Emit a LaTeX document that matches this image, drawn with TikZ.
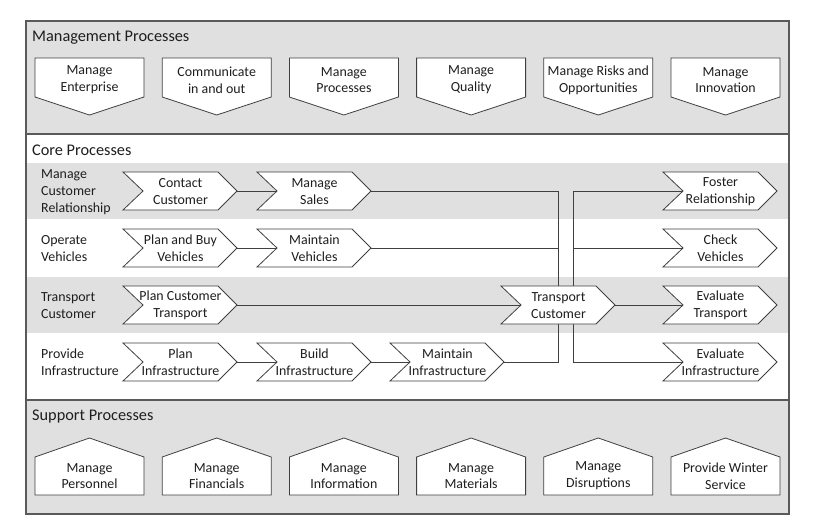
\documentclass[tikz,border=0pt]{standalone}
\usepackage{fontspec}
\setmainfont{Carlito}
\definecolor{bggray}{HTML}{E0E0E0}
\definecolor{linec}{HTML}{404040}
\definecolor{framec}{HTML}{5A5A5A}
\definecolor{txt}{HTML}{1E1E1E}
\tikzset{
  frame/.style={draw=framec, line width=1.1pt},
  shp/.style={draw=linec, fill=white, line width=0.8pt, line join=miter},
  conn/.style={draw=linec, line width=0.8pt},
  ptext/.style={inner sep=0pt, align=center, text=txt, font=\fontsize{13.9}{16.7}\selectfont},
  lanetext/.style={inner sep=0pt, align=left, anchor=west, text=txt, font=\fontsize{13.9}{16.7}\selectfont},
  title/.style={inner sep=0pt, anchor=base west, text=txt, font=\fontsize{16.3}{19}\selectfont},
}
% chevron: name, centre x, centre y, text
\newcommand\chev[4]{%
  \filldraw[shp] (#2,#3) +(-57.5,-19) -- +(37.5,-19) -- +(56.5,0) -- +(37.5,19) -- +(-57.5,19) -- +(-37.5,0) -- cycle;
  \node[ptext] (#1) at (#2,#3+0.5) {#4};
  \coordinate (#1-in) at (#2-37.5,#3);
  \coordinate (#1-out) at (#2+56.5,#3);
}
% management pentagon: name, left x, text
\newcommand\mgmt[3]{%
  \filldraw[shp] (#2,58) -- ++(109,0) -- ++(0,39) -- ++(-54.5,18) -- ++(-54.5,-18) -- cycle;
  \node[ptext] (#1) at (#2+54.5,80) {#3};
}
% support house: name, left x, text
\newcommand\supp[3]{%
  \filldraw[shp] (#2,495) -- ++(109,0) -- ++(0,-38) -- ++(-54.5,-19) -- ++(-54.5,19) -- cycle;
  \node[ptext] (#1) at (#2+54.5,476) {#3};
}
\begin{document}
\begin{tikzpicture}[x=1pt,y=-1pt]
\useasboundingbox (0,0) rectangle (822,525);
% backgrounds
\fill[bggray] (26,21) rectangle (789,134);
\fill[white] (26,134) rectangle (789,400);
\fill[bggray] (26,163) rectangle (789,219);
\fill[bggray] (26,277) rectangle (789,333);
\fill[bggray] (26,400) rectangle (789,514);
\draw[frame] (26,21) rectangle (789,514);
\draw[frame] (26,134) -- (789,134);
\draw[frame] (26,400) -- (789,400);
% titles
\node[title] (tM) at (32,41) {Management Processes};
\node[title] (tC) at (32,155) {Core Processes};
\node[title] (tS) at (32,420) {Support Processes};
% management
\mgmt{m1}{35}{Manage\\Enterprise}
\mgmt{m2}{162.2}{Communicate\\in and out}
\mgmt{m3}{289.4}{Manage\\Processes}
\mgmt{m4}{416.6}{Manage\\Quality}
\mgmt{m5}{543.8}{Manage Risks and\\Opportunities}
\mgmt{m6}{671}{Manage\\Innovation}
% support
\supp{s1}{35}{Manage\\Personnel}
\supp{s2}{162.2}{Manage\\Financials}
\supp{s3}{289.4}{Manage\\Information}
\supp{s4}{416.6}{Manage\\Materials}
\supp{s5}{543.8}{Manage\\Disruptions}
\supp{s6}{671}{Provide Winter\\Service}
% lane labels
\node[lanetext] (l1) at (41,192) {Manage\\Customer\\Relationship};
\node[lanetext] (l2) at (41,248.5) {Operate\\Vehicles};
\node[lanetext] (l3) at (41,305.5) {Transport\\Customer};
\node[lanetext] (l4) at (41,362.5) {Provide\\Infrastructure};
% junction coordinates
\coordinate (j1) at (558,286);
\coordinate (j2) at (573,286);
\coordinate (j3) at (558,324);
\coordinate (j4) at (573,324);
% connectors drawn first
\coordinate (ms-o) at (370,191);
\coordinate (mv-o) at (370,248);
\coordinate (mi-o) at (504,362);
\coordinate (fr-i) at (683,191);
\coordinate (cv-i) at (683,248);
\coordinate (ei-i) at (683,362);
\draw[conn] (ms-o) -| (j1);
\draw[conn] (mv-o) -| (j1);
\draw[conn] (mi-o) -| (j3);
\draw[conn] (j2) |- (fr-i);
\draw[conn] (j2) |- (cv-i);
\draw[conn] (j4) |- (ei-i);
% row 1
\chev{cc}{180.5}{191}{Contact\\Customer}
\chev{ms}{314.5}{191}{Manage\\Sales}
\chev{fr}{720.5}{191}{Foster\\Relationship}
% row 2
\chev{pbv}{180.5}{248}{Plan and Buy\\Vehicles}
\chev{mv}{314.5}{248}{Maintain\\Vehicles}
\chev{cv}{720.5}{248}{Check\\Vehicles}
% row 3
\chev{pct}{180.5}{305}{Plan Customer\\Transport}
\chev{tc}{558.5}{305}{Transport\\Customer}
\chev{et}{720.5}{305}{Evaluate\\Transport}
% row 4
\chev{pi}{180.5}{362}{Plan\\Infrastructure}
\chev{bi}{314.5}{362}{Build\\Infrastructure}
\chev{mi}{447.5}{362}{Maintain\\Infrastructure}
\chev{ei}{720.5}{362}{Evaluate\\Infrastructure}
% straight connectors
\draw[conn] (cc-out) -- (ms-in);
\draw[conn] (pbv-out) -- (mv-in);
\draw[conn] (pct-out) -- (tc-in);
\draw[conn] (tc-out) -- (et-in);
\draw[conn] (pi-out) -- (bi-in);
\draw[conn] (bi-out) -- (mi-in);
\end{tikzpicture}
\end{document}
